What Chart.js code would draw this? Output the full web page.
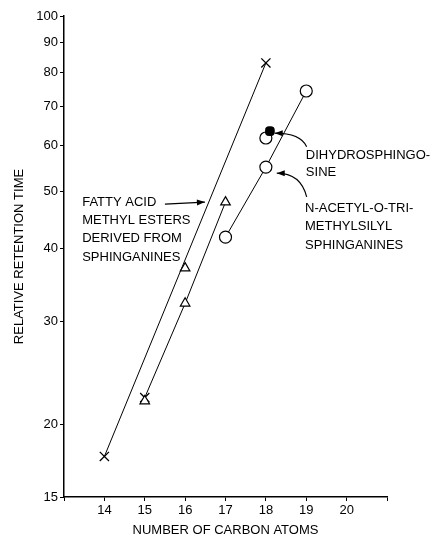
<!DOCTYPE html>
<html>
<head>
<meta charset="utf-8">
<script src="https://cdn.jsdelivr.net/npm/chart.js@4/dist/chart.umd.min.js"></script>
<style>
    html, body { margin: 0; padding: 0; background: #ffffff; }
    #wrap { width: 432px; height: 537px; }
</style>
</head>
<body>
<div id="wrap"><canvas id="retentionChart" width="432" height="537"></canvas></div>
<script>
// Axis ticks
const xTicks = [13, 14, 15, 16, 17, 18, 19, 20, 21];
const xLabels = ['', '14', '15', '16', '17', '18', '19', '20', ''];
const yTicks = [15, 20, 30, 40, 50, 60, 70, 80, 90, 100];

// Crosses joined by the straight line (14 -> 18)
const crossLineX = [14, 18];
const crossLineY = [17.6, 83.1];
// Extra cross at C15 (sits on the triangle line)
const crossExtraX = [15];
const crossExtraY = [22.2];

// Triangles: fatty acid methyl esters derived from sphinganines
const triX = [15, 16, 16, 17];
const triY = [21.9, 37.0, 32.2, 48.0];
const triLineX = [15, 16, 17];
const triLineY = [22.2, 32.2, 48.0];

// Circles: N-acetyl-O-trimethylsilyl sphinganines
const circX = [17, 18, 18, 19];
const circY = [41.8, 55.1, 61.8, 74.4];
const circLineX = [17, 18, 19];
const circLineY = [41.8, 55.1, 74.4];

// Filled marker: dihydrosphingosine
const dihydroX = [18.1];
const dihydroY = [63.5];

const FONT = "'Liberation Sans', Arial, sans-serif";

function pts(xs, ys) {
    return xs.map((x, i) => ({ x: x, y: ys[i] }));
}

// Text annotations, anchored in data units (x, y of first line)
const notes = [
    { x: 13.45, y: 48.0, lines: ['FATTY ACID', 'METHYL ESTERS', 'DERIVED FROM', 'SPHINGANINES'], step: 18.3 },
    { x: 18.99, y: 57.6, lines: ['DIHYDROSPHINGO-', 'SINE'], step: 16.5 },
    { x: 18.97, y: 46.9, lines: ['N-ACETYL-O-TRI-', 'METHYLSILYL', 'SPHINGANINES'], step: 18.5 }
];
// Arrows: from -> to in data units, bend = curved
const arrows = [
    { x1: 15.50, y1: 47.6, x2: 16.49, y2: 48.0, bend: false },
    { x1: 19.01, y1: 59.7, x2: 18.22, y2: 63.0, bend: true },
    { x1: 19.01, y1: 49.0, x2: 18.27, y2: 53.8, bend: true }
];

const notesPlugin = {
    id: 'notes',
    afterDatasetsDraw(chart) {
        const ctx = chart.ctx;
        const xs = chart.scales.x, ys = chart.scales.y;
        ctx.save();
        ctx.fillStyle = '#000';
        ctx.font = '13px ' + FONT;
        ctx.textAlign = 'left';
        ctx.textBaseline = 'middle';
        notes.forEach(n => {
            const px = xs.getPixelForValue(n.x);
            const py = ys.getPixelForValue(n.y);
            n.lines.forEach((t, i) => ctx.fillText(t, px, py + i * n.step));
        });
        ctx.strokeStyle = '#000';
        ctx.lineWidth = 1.2;
        arrows.forEach(a => {
            const x1 = xs.getPixelForValue(a.x1), y1 = ys.getPixelForValue(a.y1);
            const x2 = xs.getPixelForValue(a.x2), y2 = ys.getPixelForValue(a.y2);
            ctx.beginPath();
            ctx.moveTo(x1, y1);
            let ang;
            if (a.bend) {
                const cx = x1 - 6, cy = y2;
                ctx.quadraticCurveTo(cx, cy, x2, y2);
                ang = Math.atan2(y2 - cy, x2 - cx);
            } else {
                ctx.lineTo(x2, y2);
                ang = Math.atan2(y2 - y1, x2 - x1);
            }
            ctx.stroke();
            const hl = 8, hw = 3;
            ctx.beginPath();
            ctx.moveTo(x2, y2);
            ctx.lineTo(x2 - hl * Math.cos(ang) + hw * Math.sin(ang), y2 - hl * Math.sin(ang) - hw * Math.cos(ang));
            ctx.lineTo(x2 - hl * Math.cos(ang) - hw * Math.sin(ang), y2 - hl * Math.sin(ang) + hw * Math.cos(ang));
            ctx.closePath();
            ctx.fill();
        });
        ctx.restore();
    }
};

const ctx = document.getElementById('retentionChart').getContext('2d');

new Chart(ctx, {
    type: 'scatter',
    data: {
        datasets: [
            {
                label: 'dihydrosphingosine',
                data: pts(dihydroX, dihydroY),
                pointStyle: 'rectRounded',
                pointRadius: 5,
                backgroundColor: '#000',
                borderColor: '#000',
                borderWidth: 1,
                order: 0
            },
            {
                label: 'circles',
                data: pts(circX, circY),
                pointStyle: 'circle',
                pointRadius: 6,
                backgroundColor: '#ffffff',
                borderColor: '#000',
                borderWidth: 1.2,
                order: 1
            },
            {
                label: 'triangles',
                data: pts(triX, triY),
                pointStyle: 'triangle',
                pointRadius: 5.5,
                backgroundColor: '#ffffff',
                borderColor: '#000',
                borderWidth: 1.2,
                order: 2
            },
            {
                label: 'crosses',
                data: pts(crossLineX, crossLineY),
                showLine: true,
                pointStyle: 'crossRot',
                pointRadius: 6.5,
                borderColor: '#000',
                borderWidth: 1,
                pointBorderWidth: 1.3,
                order: 3
            },
            {
                label: 'cross 15',
                data: pts(crossExtraX, crossExtraY),
                pointStyle: 'crossRot',
                pointRadius: 6.5,
                borderColor: '#000',
                borderWidth: 1.3,
                order: 3
            },
            {
                label: 'triangle line',
                data: pts(triLineX, triLineY),
                showLine: true,
                pointRadius: 0,
                borderColor: '#000',
                borderWidth: 1,
                order: 4
            },
            {
                label: 'circle line',
                data: pts(circLineX, circLineY),
                showLine: true,
                pointRadius: 0,
                borderColor: '#000',
                borderWidth: 1,
                order: 4
            }
        ]
    },
    options: {
        responsive: false,
        animation: false,
        layout: { padding: { left: 0, top: 16, right: 45, bottom: 0 } },
        scales: {
            x: {
                type: 'linear',
                min: 13,
                max: 21,
                afterBuildTicks: scale => { scale.ticks = xTicks.map(v => ({ value: v })); },
                afterFit: scale => { scale.height = 40; },
                ticks: {
                    color: '#000',
                    font: { family: FONT, size: 13 },
                    padding: 2,
                    maxRotation: 0,
                    callback: (v, i) => xLabels[i]
                },
                grid: { drawOnChartArea: false, tickLength: 4, color: '#000', lineWidth: 1 },
                border: { color: '#000', width: 1.5 },
                title: {
                    display: true,
                    text: 'NUMBER OF CARBON ATOMS',
                    color: '#000',
                    font: { family: FONT, size: 13, lineHeight: 1 },
                    padding: { top: 0, bottom: 0 }
                }
            },
            y: {
                type: 'logarithmic',
                min: 15,
                max: 100,
                afterBuildTicks: scale => { scale.ticks = yTicks.map(v => ({ value: v })); },
                afterFit: scale => { scale.width = 64; },
                ticks: {
                    color: '#000',
                    font: { family: FONT, size: 13 },
                    padding: 2,
                    callback: v => String(v)
                },
                grid: { drawOnChartArea: false, tickLength: 4, color: '#000', lineWidth: 1 },
                border: { color: '#000', width: 1.5 },
                title: {
                    display: true,
                    text: 'RELATIVE RETENTION TIME',
                    color: '#000',
                    font: { family: FONT, size: 13, lineHeight: 1 },
                    padding: { top: 13, bottom: 0 }
                }
            }
        },
        plugins: {
            legend: { display: false },
            tooltip: { enabled: false }
        }
    },
    plugins: [notesPlugin]
});
</script>
</body>
</html>
